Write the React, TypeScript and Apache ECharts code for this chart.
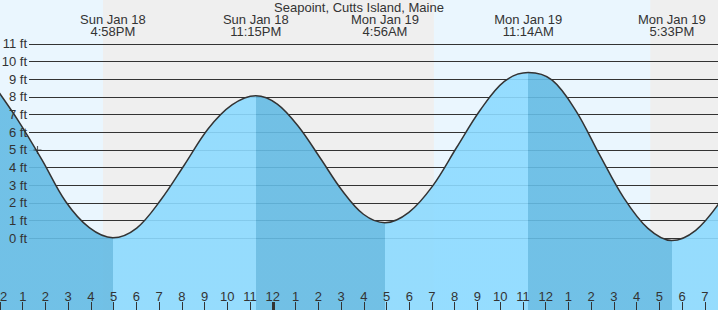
import { useEffect, useRef } from "react";
import * as echarts from "echarts";

// ---- data (hours relative to midnight Sun Jan 18 / Mon Jan 19) ----
const chartTitle = "Seapoint, Cutts Island, Maine";

const tideHours = [
  -12.233, -11.193, -10.153, -9.113, -8.073, -7.033, -5.986, -4.939, -3.892, -2.844, -1.797,
  -0.75, 0.197, 1.144, 2.092, 3.039, 3.986, 4.933, 5.983, 7.033, 8.083, 9.133, 10.183,
  11.233, 12.286, 13.339, 14.392, 15.444, 16.497, 17.55, 18.6, 19.65, 20.7,
];
const tideFeet = [
  8.6, 6.65, 4.44, 2.08, 0.6, 0.03, 0.58, 2.15, 4.15, 6.2, 7.55,
  8.07, 7.6, 6.3, 4.53, 2.72, 1.36, 0.88, 1.47, 2.97, 5.14, 7.28, 8.88,
  9.38, 8.95, 7.2, 4.68, 2.27, 0.56, -0.13, 0.45, 2.02, 4.2,
];

const extremeTimes = [-7.033, -0.75, 4.933, 11.233, 17.55];
const extremeKinds = ["low", "high", "low", "high", "low"];
const extremeDays = ["Sun Jan 18", "Sun Jan 18", "Mon Jan 19", "Mon Jan 19", "Mon Jan 19"];
const extremeClock = ["4:58PM", "11:15PM", "4:56AM", "11:14AM", "5:33PM"];

const nightStarts = [-7.47, 16.6];
const nightEnds = [7.085, 20];

const hourTicks = [
  -12, -11, -10, -9, -8, -7, -6, -5, -4, -3, -2, -1, 0, 1, 2, 3, 4, 5, 6, 7, 8, 9, 10,
  11, 12, 13, 14, 15, 16, 17, 18, 19,
];
const midnightTicks = [0];
const footTicks = [0, 1, 2, 3, 4, 5, 6, 7, 8, 9, 10, 11];
const nowPoint = [-10.35, 5.0];

// ---- styling ----
const X_MIN = -12;
const X_MAX = 19.58;
const Y_MIN = -4.06;
const Y_MAX = 13.49;
const DAY = "#eaf6fe";
const NIGHT = "#efefef";
const FALL = "#64bbe4";
const RISE = "#8cdaff";
const INK = "#333333";
const FONT = "'Liberation Sans', Arial, sans-serif";
const SMOOTH = 0.34;

export default function App() {
  const ref = useRef<HTMLDivElement>(null);

  useEffect(() => {
    document.body.style.margin = "0";
    if (!ref.current) return;
    const chart = echarts.init(ref.current, undefined, { renderer: "svg" });

    const tideData = tideHours.map((h, i) => [h, tideFeet[i]]);

    const pieces: any[] = [];
    for (let i = 0; i <= extremeTimes.length; i++) {
      const kindEnding =
        i < extremeTimes.length
          ? extremeKinds[i]
          : extremeKinds[i - 1] === "low"
          ? "high"
          : "low";
      const p: any = { color: kindEnding === "low" ? FALL : RISE };
      if (i > 0) p.gte = extremeTimes[i - 1];
      if (i < extremeTimes.length) p.lt = extremeTimes[i];
      pieces.push(p);
    }

    const hourLabel = (v: number) => {
      const h = ((Math.round(v) % 12) + 12) % 12;
      return h === 0 ? "12" : String(h);
    };
    const extremeLabel = (v: number) => {
      const i = extremeTimes.findIndex((t) => Math.abs(t - v) < 1e-6);
      return i < 0 ? "" : `${extremeDays[i]}\n${extremeClock[i]}`;
    };

    const xBase: any = {
      type: "value",
      min: X_MIN,
      max: X_MAX,
      splitLine: { show: false },
      axisLine: { show: false, onZero: false },
    };
    const yBase: any = {
      type: "value",
      min: Y_MIN,
      max: Y_MAX,
      splitLine: { show: false },
      axisLine: { show: false, onZero: false },
      axisTick: { show: false },
    };

    const option: any = {
      animation: false,
      textStyle: { fontFamily: FONT },
      title: {
        text: chartTitle,
        left: "center",
        top: 1,
        padding: 0,
        textStyle: { fontSize: 13, fontWeight: "normal", color: INK, fontFamily: FONT },
      },
      grid: [
        {
          left: 0,
          right: 0,
          top: 0,
          bottom: 0,
          show: true,
          backgroundColor: DAY,
          borderWidth: 0,
          containLabel: false,
          outerBoundsMode: "none",
        },
        { left: 29, right: 0, top: 0, bottom: 0, containLabel: false, outerBoundsMode: "none" },
      ],
      visualMap: {
        type: "piecewise",
        show: false,
        dimension: 0,
        seriesIndex: 2,
        pieces,
      },
      xAxis: [
        {
          ...xBase,
          gridIndex: 0,
          position: "bottom",
          z: 10,
          axisTick: {
            show: true,
            inside: true,
            length: 8,
            customValues: hourTicks,
            lineStyle: { color: INK, width: 1 },
          },
          axisLabel: {
            show: true,
            inside: true,
            margin: 7,
            customValues: hourTicks,
            formatter: hourLabel,
            color: INK,
            fontSize: 13,
            fontFamily: FONT,
          },
        },
        { ...xBase, gridIndex: 1, show: false },
        {
          ...xBase,
          gridIndex: 0,
          position: "top",
          z: 10,
          axisTick: { show: false },
          axisLabel: {
            show: true,
            inside: true,
            margin: 13,
            customValues: extremeTimes,
            formatter: extremeLabel,
            color: INK,
            fontSize: 13,
            lineHeight: 12,
            fontFamily: FONT,
          },
        },
        {
          ...xBase,
          gridIndex: 0,
          position: "bottom",
          z: 11,
          axisTick: {
            show: true,
            inside: true,
            length: 8,
            customValues: midnightTicks,
            lineStyle: { color: INK, width: 3 },
          },
          axisLabel: { show: false },
        },
      ],
      yAxis: [
        { ...yBase, gridIndex: 0, axisLabel: { show: false } },
        {
          ...yBase,
          gridIndex: 1,
          z: 10,
          axisLabel: {
            show: true,
            margin: 2,
            customValues: footTicks,
            formatter: (v: number) => `${v} ft`,
            color: INK,
            fontSize: 13,
            fontFamily: FONT,
          },
        },
      ],
      series: [
        {
          type: "line",
          xAxisIndex: 0,
          yAxisIndex: 0,
          data: [],
          silent: true,
          z: 1,
          markArea: {
            silent: true,
            z: 1,
            itemStyle: { color: NIGHT, opacity: 1, borderWidth: 0 },
            label: { show: false },
            data: nightStarts.map((s, i) => [{ xAxis: s }, { xAxis: nightEnds[i] }]),
          },
        },
        {
          type: "line",
          xAxisIndex: 1,
          yAxisIndex: 1,
          data: [],
          silent: true,
          z: 2,
          markLine: {
            silent: true,
            z: 2,
            symbol: ["none", "none"],
            label: { show: false },
            lineStyle: { color: INK, width: 1, type: "solid", opacity: 1 },
            data: footTicks.map((v) => ({ yAxis: v })),
          },
        },
        {
          type: "line",
          xAxisIndex: 0,
          yAxisIndex: 0,
          data: tideData,
          smooth: SMOOTH,
          symbol: "none",
          showSymbol: false,
          silent: true,
          z: 3,
          lineStyle: { width: 0 },
          areaStyle: { origin: "start", opacity: 0.9 },
        },
        {
          type: "line",
          xAxisIndex: 0,
          yAxisIndex: 0,
          data: tideData,
          smooth: SMOOTH,
          symbol: "none",
          showSymbol: false,
          silent: true,
          z: 4,
          lineStyle: { color: INK, width: 1.5 },
        },
        {
          type: "scatter",
          xAxisIndex: 0,
          yAxisIndex: 0,
          data: [nowPoint],
          symbol: "path://M3,0H4V3H7V4H4V7H3V4H0V3H3Z",
          symbolSize: [8, 8],
          itemStyle: { color: INK },
          silent: true,
          z: 5,
        },
      ],
    };

    chart.setOption(option);
    return () => chart.dispose();
  }, []);

  return <div ref={ref} style={{ width: 718, height: 310 }} />;
}
